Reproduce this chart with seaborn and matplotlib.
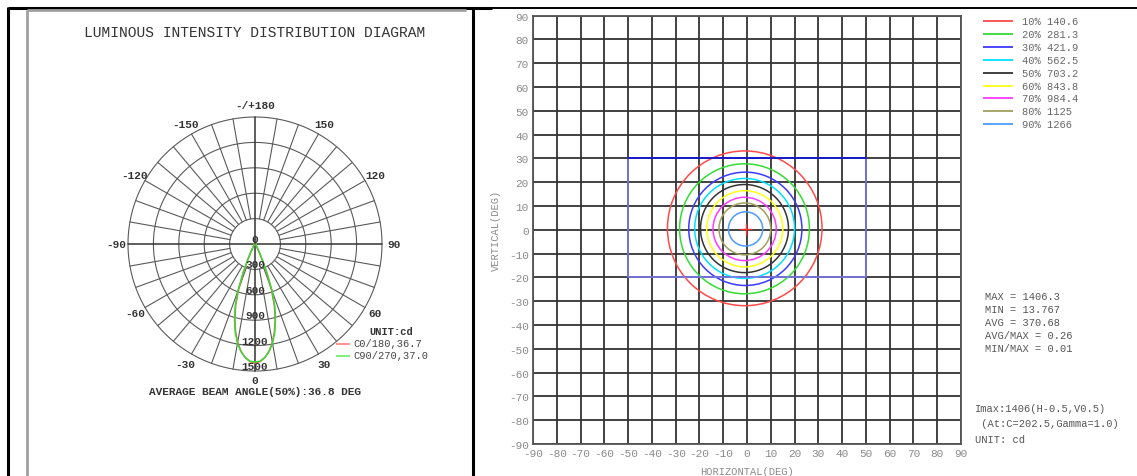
import numpy as np
import pandas as pd
import matplotlib
matplotlib.use("Agg")
import matplotlib.pyplot as plt
from matplotlib.lines import Line2D
from matplotlib.patches import Circle
import seaborn as sns

# ---- data ----
# polar curves (gamma in degrees, intensity in cd)
gamma_deg = [0, 2.5, 5, 7.5, 10, 12.5, 15, 17.5, 20, 22.5, 25, 27.5, 30, 35, 40, 50, 60, 90]
c0_cd = [1406, 1390, 1345, 1275, 1180, 1060, 920, 760, 560, 340, 180, 95, 55, 30, 22, 17, 15, 14]
c90_cd = [1395, 1385, 1345, 1280, 1190, 1075, 935, 780, 590, 370, 200, 105, 60, 32, 23, 17, 15, 14]
ring_values = [300, 600, 900, 1200, 1500]
angle_labels = [0, 30, 60, 90, 120, 150, 180, -150, -120, -90, -60, -30]
curve_names = ["C0/180,36.7", "C90/270,37.0"]
beam_text = "AVERAGE BEAM ANGLE(50%):36.8 DEG"

# iso-candela rings on the H/V grid
level_pct = [10, 20, 30, 40, 50, 60, 70, 80, 90]
level_cd = ["140.6", "281.3", "421.9", "562.5", "703.2", "843.8", "984.4", "1125", "1266"]
ring_cx = [-0.95, -1.05, -0.7, -1.0, -1.05, -0.95, -1.0, -0.9, -0.6]
ring_cy = [0.6, 0.4, 0.4, 0.55, 0.5, 0.4, 0.35, 0.35, 0.35]
ring_r = [32.5, 27.3, 23.8, 21.0, 18.5, 16.0, 13.3, 10.9, 7.2]
ring_colors = ["#ff4a4a", "#33dd33", "#3a3aff", "#00e0ff", "#333333",
               "#ffff1a", "#ff3cff", "#a0a060", "#4d9cff"]
rect_h = [-50, 50]
rect_v = [-20, 30]
imax_pos = (-0.5, 0.5)
stats = ["MAX = 1406.3", "MIN = 13.767", "AVG = 370.68", "AVG/MAX = 0.26", "MIN/MAX = 0.01"]
imax_lines = ["Imax:1406(H-0.5,V0.5)", " (At:C=202.5,Gamma=1.0)", "UNIT: cd"]

sns.set_style("white")
plt.rcParams["font.family"] = ["Liberation Mono", "DejaVu Sans Mono"]
plt.rcParams["axes.unicode_minus"] = False

W, H = 1137, 477
fig = plt.figure(figsize=(W / 100, H / 100), dpi=100)


def fx(x):
    return x / W


def fy(y):
    return 1 - y / H


def frame_line(x0, y0, x1, y1, color, lw):
    fig.add_artist(Line2D([fx(x0), fx(x1)], [fy(y0), fy(y1)], color=color, lw=lw,
                          transform=fig.transFigure, solid_capstyle="butt"))


# page / table borders
frame_line(8, 8, 8, 477, "black", 2.2)
frame_line(8, 8.5, 492, 8.5, "black", 2.2)
frame_line(492, 8.5, 1137, 8.5, "black", 1.4)
frame_line(473, 8, 473, 477, "black", 2.2)
frame_line(27, 11, 466, 11, "#a0a0a0", 2)
frame_line(27, 11, 27, 477, "#a0a0a0", 2)

# ---------- left: polar diagram ----------
cx, cy, R = 255, 245, 127
axp = fig.add_axes([fx(cx - R), fy(cy + R), 2 * R / W, 2 * R / H], projection="polar")
axp.set_theta_zero_location("S")
axp.set_theta_direction(1)
axp.set_ylim(0, 1500)
axp.axis("off")

full = np.linspace(0, 2 * np.pi, 361)
for v in ring_values:
    axp.plot(full, np.full_like(full, v), color="#5a5a5a", lw=0.8, clip_on=False)
for deg in range(0, 360, 10):
    t = np.deg2rad(deg)
    if deg % 90 == 0:
        axp.plot([t, t], [0, 1500], color="#333333", lw=1.1, clip_on=False)
    else:
        axp.plot([t, t], [300, 1500], color="#5a5a5a", lw=0.8, clip_on=False)

g = np.deg2rad(np.array(gamma_deg))
for vals, col in [(c0_cd, "#ff5555"), (c90_cd, "#33dd33")]:
    theta = np.concatenate([-g[::-1], g[1:]])
    rr = np.concatenate([np.array(vals)[::-1], np.array(vals)[1:]])
    df = pd.DataFrame({"theta": theta, "cd": rr})
    sns.lineplot(data=df, x="theta", y="cd", ax=axp, sort=False, estimator=None,
                 color=col, lw=1.1, legend=False)
axp.axis("off")

for v in [0] + ring_values:
    axp.text(0, v, str(v), ha="center", va="bottom", fontsize=8, fontweight="bold",
             color="#333333")
for a in angle_labels:
    lab = "-/+180" if a == 180 else str(a)
    rl = 1610 if a == 0 else 1640
    axp.text(np.deg2rad(a), rl, lab, ha="center", va="center", fontsize=8,
             fontweight="bold", color="#333333", clip_on=False)

fig.text(fx(255), fy(33), "LUMINOUS INTENSITY DISTRIBUTION DIAGRAM", ha="center",
         va="center", fontsize=10.5, color="#333333")
fig.text(fx(369), fy(332), "UNIT:cd", ha="left", va="center", fontsize=7.5,
         fontweight="bold", color="#333333")
for i, (name, col) in enumerate(zip(curve_names, ["#ff8080", "#66ee66"])):
    yy = 345 + 12 * i
    frame_line(336, yy, 350, yy, col, 1.2)
    fig.text(fx(353), fy(yy - 1), name, ha="left", va="center", fontsize=7.5,
             color="#444444")
fig.text(fx(255), fy(392), beam_text, ha="center", va="center", fontsize=8,
         fontweight="bold", color="#333333")

# ---------- right: H/V iso-candela grid ----------
axr = fig.add_axes([fx(533), fy(445), 428 / W, 428.5 / H])
axr.set_xlim(-90, 90)
axr.set_ylim(-90, 90)
ticks = list(range(-90, 91, 10))
axr.set_xticks(ticks)
axr.set_yticks(ticks)
axr.grid(True, color="#333333", lw=1.3)
axr.set_axisbelow(True)
for s in axr.spines.values():
    s.set_color("#555555")
    s.set_linewidth(1.3)
axr.tick_params(length=0, labelsize=8, labelcolor="#8a8a8a", pad=3)
axr.set_xlabel("HORIZONTAL(DEG)", fontsize=7.5, color="#8a8a8a", labelpad=6)
axr.set_ylabel("VERTICAL(DEG)", fontsize=7.5, color="#8a8a8a", labelpad=6)

axr.plot([rect_h[0], rect_h[0], rect_h[1], rect_h[1]],
         [rect_v[1], rect_v[0], rect_v[0], rect_v[1]], color="#8080ff", lw=1.1)
axr.plot(rect_h, [rect_v[1], rect_v[1]], color="#1a1acc", lw=1.4)

for x0, y0, r, col in zip(ring_cx, ring_cy, ring_r, ring_colors):
    axr.add_patch(Circle((x0, y0), r, fill=False, ec=col, lw=1.1))
axr.plot([imax_pos[0]], [imax_pos[1]], marker="+", ms=8, mew=1, color="#ff3030")

for i, (p, c, col) in enumerate(zip(level_pct, level_cd, ring_colors)):
    yy = 22 + 12.9 * i
    frame_line(983, yy, 1013, yy, col, 1.3)
    fig.text(fx(1022), fy(yy), f"{p}% {c}", ha="left", va="center", fontsize=7.5,
             color="#666666")
for i, s in enumerate(stats):
    fig.text(fx(985), fy(297 + 13 * i), s, ha="left", va="center", fontsize=7.5,
             color="#555555")
for i, s in enumerate(imax_lines):
    fig.text(fx(975), fy(409 + 15.5 * i), s, ha="left", va="center", fontsize=7.5,
             color="#555555")

fig.savefig("out.png", dpi=100)
